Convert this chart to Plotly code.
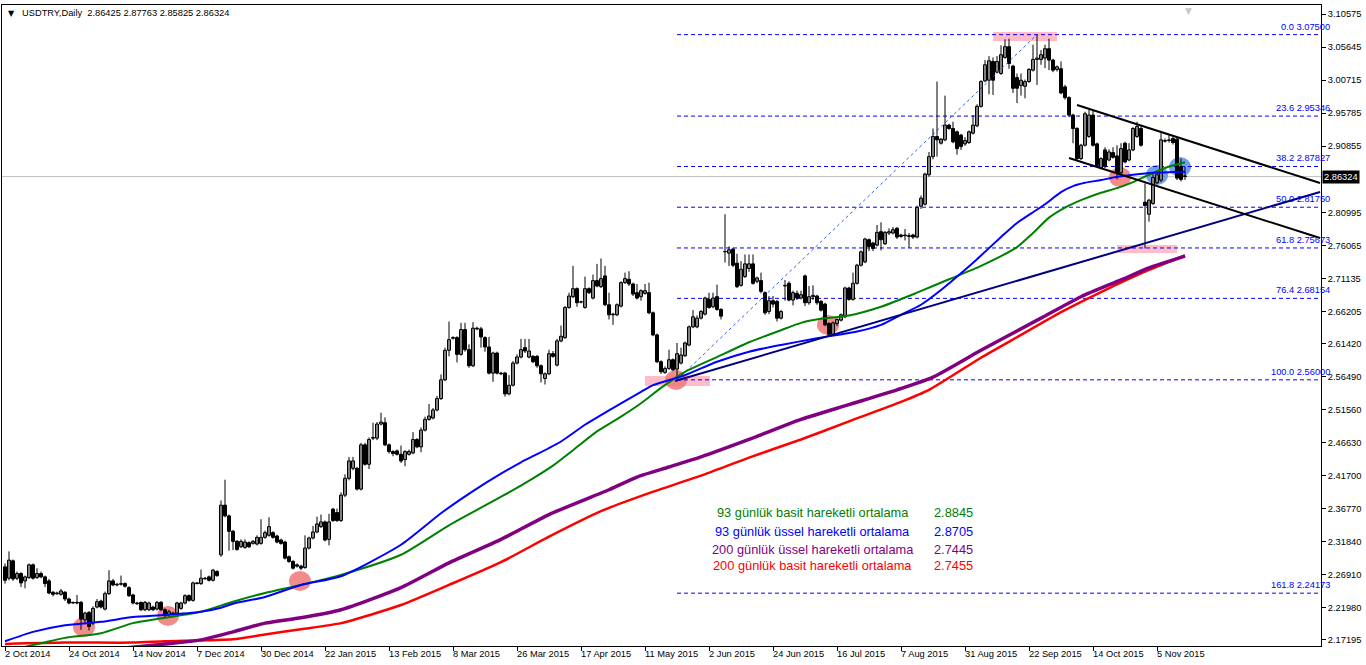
import plotly.graph_objects as go

# ---------------- data ----------------
O = [2.281,2.264,2.290,2.264,2.271,2.260,2.265,2.284,2.265,2.271,2.266,2.260,2.243,2.241,2.240,2.243,2.233,2.227,2.228,2.228,
     2.202,2.213,2.197,2.221,2.230,2.218,2.241,2.260,2.254,2.255,2.256,2.250,2.239,2.227,2.228,2.217,2.217,2.221,2.218,2.228,
     2.217,2.210,2.212,2.212,2.219,2.227,2.238,2.231,2.257,2.256,2.263,2.266,2.261,2.274,2.299,2.373,2.357,2.334,2.319,2.311,
     2.310,2.317,2.316,2.315,2.316,2.325,2.328,2.332,2.327,2.321,2.318,2.296,2.289,2.284,2.282,2.280,2.309,2.324,2.333,2.341,
     2.348,2.322,2.367,2.362,2.350,2.388,2.413,2.428,2.428,2.397,2.463,2.434,2.474,2.473,2.494,2.496,2.463,2.453,2.454,2.449,
     2.441,2.449,2.451,2.471,2.460,2.485,2.501,2.503,2.515,2.532,2.560,2.604,2.622,2.623,2.598,2.635,2.605,2.581,2.637,2.636,
     2.623,2.609,2.570,2.600,2.570,2.570,2.539,2.552,2.585,2.594,2.608,2.594,2.595,2.595,2.581,2.562,2.569,2.599,2.582,2.618,
     2.623,2.668,2.684,2.696,2.676,2.668,2.696,2.682,2.708,2.699,2.715,2.672,2.657,2.657,2.670,2.705,2.710,2.703,2.690,2.684,
     2.689,2.690,2.660,2.627,2.587,2.571,2.577,2.590,2.576,2.585,2.596,2.612,2.639,2.639,2.652,2.658,2.680,2.669,2.684,2.665,
     2.751,2.749,2.755,2.734,2.701,2.714,2.726,2.733,2.707,2.708,2.690,2.662,2.678,2.677,2.652,2.700,2.704,2.679,2.689,2.682,
     2.715,2.675,2.684,2.685,2.677,2.673,2.644,2.628,2.644,2.649,2.654,2.697,2.680,2.704,2.731,2.736,2.769,2.764,2.761,2.781,
     2.763,2.779,2.779,2.786,2.776,2.776,2.775,2.776,2.773,2.819,2.822,2.866,2.893,2.923,2.913,2.918,2.940,2.935,2.930,2.925,
     2.912,2.914,2.928,2.939,2.968,3.006,3.007,3.035,3.019,3.017,3.041,3.057,3.028,3.011,2.999,2.998,3.005,3.022,3.038,3.038,
     3.040,3.054,3.037,3.023,3.024,2.997,2.981,2.955,2.935,2.890,2.910,2.923,2.955,2.912,2.876,2.903,2.888,2.899,2.894,2.869,
     2.913,2.888,2.903,2.923,2.935,2.825,2.807,2.823,2.854,2.858,2.916,2.917,2.920,2.919,2.878,2.86425]
H = [2.286,2.304,2.292,2.274,2.273,2.268,2.286,2.286,2.279,2.274,2.268,2.263,2.245,2.244,2.248,2.245,2.235,2.229,2.239,2.230,
     2.214,2.215,2.222,2.233,2.232,2.244,2.276,2.263,2.257,2.268,2.258,2.252,2.241,2.229,2.229,2.230,2.229,2.223,2.230,2.230,
     2.219,2.217,2.214,2.229,2.229,2.240,2.240,2.259,2.258,2.277,2.266,2.268,2.278,2.276,2.380,2.411,2.359,2.336,2.321,2.322,
     2.322,2.319,2.321,2.328,2.352,2.335,2.355,2.334,2.329,2.323,2.320,2.298,2.291,2.286,2.284,2.328,2.326,2.342,2.356,2.359,
     2.350,2.360,2.369,2.368,2.392,2.419,2.445,2.445,2.430,2.466,2.466,2.474,2.496,2.497,2.511,2.504,2.465,2.455,2.456,2.462,
     2.455,2.456,2.482,2.473,2.489,2.505,2.524,2.518,2.536,2.568,2.608,2.647,2.625,2.625,2.645,2.645,2.613,2.646,2.639,2.639,
     2.625,2.624,2.602,2.602,2.572,2.572,2.567,2.588,2.598,2.621,2.621,2.621,2.597,2.597,2.583,2.571,2.605,2.603,2.621,2.641,
     2.670,2.690,2.730,2.698,2.678,2.714,2.698,2.717,2.733,2.741,2.730,2.690,2.660,2.674,2.707,2.720,2.722,2.705,2.703,2.695,
     2.703,2.705,2.662,2.629,2.589,2.580,2.605,2.592,2.615,2.608,2.617,2.641,2.664,2.656,2.664,2.684,2.690,2.690,2.702,2.667,
     2.807,2.759,2.757,2.748,2.737,2.747,2.747,2.747,2.714,2.720,2.692,2.685,2.685,2.679,2.664,2.709,2.707,2.693,2.693,2.693,
     2.717,2.700,2.701,2.687,2.679,2.675,2.646,2.647,2.652,2.659,2.699,2.699,2.720,2.733,2.753,2.772,2.771,2.766,2.791,2.795,
     2.782,2.786,2.788,2.788,2.778,2.785,2.779,2.778,2.820,2.835,2.869,2.900,2.935,3.005,2.921,2.984,2.942,2.945,2.932,2.927,
     2.922,2.932,2.955,2.971,3.007,3.037,3.043,3.041,3.043,3.059,3.068,3.069,3.030,3.017,3.017,3.008,3.025,3.060,3.075,3.052,
     3.060,3.069,3.039,3.029,3.035,3.000,2.983,2.957,2.937,2.912,2.960,2.963,2.963,2.914,2.892,2.907,2.904,2.907,2.910,2.913,
     2.915,2.913,2.937,2.945,2.940,2.853,2.830,2.870,2.868,2.928,2.920,2.925,2.923,2.922,2.890,2.87763]
L = [2.256,2.261,2.260,2.261,2.251,2.249,2.263,2.262,2.263,2.264,2.251,2.240,2.237,2.239,2.238,2.230,2.225,2.226,2.225,2.187,
     2.196,2.186,2.194,2.219,2.219,2.216,2.239,2.252,2.252,2.253,2.250,2.236,2.225,2.224,2.215,2.215,2.215,2.215,2.216,2.215,
     2.206,2.206,2.209,2.210,2.217,2.225,2.229,2.229,2.255,2.254,2.262,2.259,2.259,2.266,2.296,2.355,2.305,2.306,2.305,2.309,
     2.308,2.309,2.314,2.313,2.314,2.323,2.326,2.323,2.316,2.314,2.292,2.287,2.277,2.280,2.276,2.278,2.307,2.322,2.331,2.339,
     2.319,2.313,2.348,2.348,2.348,2.385,2.410,2.425,2.395,2.395,2.432,2.427,2.470,2.470,2.492,2.461,2.450,2.446,2.447,2.436,
     2.431,2.447,2.449,2.458,2.452,2.483,2.499,2.501,2.513,2.530,2.558,2.595,2.620,2.586,2.596,2.602,2.578,2.579,2.634,2.608,
     2.602,2.568,2.557,2.568,2.567,2.535,2.537,2.550,2.583,2.592,2.600,2.592,2.585,2.578,2.556,2.553,2.567,2.593,2.580,2.616,
     2.621,2.666,2.682,2.669,2.674,2.666,2.688,2.680,2.698,2.697,2.670,2.650,2.642,2.655,2.668,2.703,2.700,2.685,2.680,2.678,
     2.687,2.658,2.625,2.585,2.569,2.569,2.575,2.573,2.560,2.583,2.594,2.610,2.637,2.637,2.650,2.656,2.666,2.667,2.663,2.650,
     2.735,2.730,2.728,2.697,2.699,2.712,2.721,2.702,2.704,2.689,2.657,2.658,2.668,2.647,2.650,2.678,2.677,2.671,2.679,2.680,
     2.670,2.672,2.679,2.672,2.662,2.640,2.626,2.626,2.640,2.647,2.652,2.678,2.678,2.702,2.729,2.734,2.752,2.752,2.759,2.753,
     2.761,2.776,2.777,2.770,2.772,2.768,2.757,2.770,2.771,2.815,2.820,2.863,2.889,2.893,2.911,2.916,2.933,2.913,2.896,2.903,
     2.909,2.912,2.926,2.937,2.966,3.004,2.986,2.985,3.017,3.015,3.039,3.024,2.988,2.973,2.984,2.980,3.003,3.020,3.000,3.030,
     3.025,3.022,3.019,3.020,2.986,2.978,2.952,2.913,2.888,2.888,2.908,2.921,2.908,2.878,2.874,2.876,2.886,2.890,2.859,2.866,
     2.883,2.886,2.901,2.921,2.908,2.756,2.796,2.821,2.852,2.855,2.914,2.914,2.911,2.858,2.856,2.85825]
C = [2.261,2.291,2.263,2.271,2.257,2.266,2.284,2.264,2.271,2.266,2.256,2.242,2.240,2.242,2.245,2.233,2.227,2.228,2.227,2.203,
     2.212,2.192,2.219,2.229,2.221,2.241,2.260,2.254,2.255,2.256,2.252,2.238,2.227,2.226,2.217,2.228,2.227,2.217,2.228,2.217,
     2.208,2.214,2.211,2.227,2.227,2.238,2.231,2.257,2.256,2.264,2.264,2.261,2.276,2.268,2.373,2.357,2.334,2.319,2.307,2.319,
     2.318,2.311,2.319,2.325,2.325,2.332,2.341,2.325,2.318,2.316,2.294,2.289,2.279,2.282,2.279,2.309,2.324,2.333,2.345,2.348,
     2.321,2.348,2.350,2.350,2.388,2.413,2.439,2.439,2.397,2.463,2.434,2.471,2.473,2.494,2.497,2.463,2.453,2.450,2.449,2.439,
     2.453,2.453,2.471,2.460,2.485,2.501,2.506,2.515,2.532,2.560,2.604,2.620,2.623,2.598,2.635,2.605,2.581,2.637,2.636,2.624,
     2.609,2.570,2.600,2.570,2.569,2.539,2.552,2.585,2.594,2.605,2.603,2.603,2.587,2.581,2.569,2.569,2.599,2.595,2.618,2.625,
     2.668,2.685,2.696,2.675,2.676,2.696,2.690,2.708,2.700,2.711,2.672,2.657,2.658,2.672,2.705,2.711,2.703,2.688,2.682,2.693,
     2.693,2.660,2.627,2.587,2.572,2.577,2.590,2.575,2.599,2.597,2.615,2.639,2.654,2.652,2.662,2.682,2.668,2.682,2.665,2.655,
     2.751,2.754,2.731,2.699,2.725,2.733,2.733,2.704,2.712,2.692,2.660,2.678,2.673,2.652,2.662,2.701,2.679,2.690,2.682,2.687,
     2.675,2.684,2.686,2.675,2.664,2.642,2.628,2.645,2.650,2.657,2.697,2.680,2.704,2.731,2.751,2.770,2.759,2.756,2.780,2.769,
     2.780,2.781,2.784,2.773,2.774,2.775,2.774,2.773,2.817,2.831,2.867,2.893,2.923,2.918,2.919,2.940,2.935,2.915,2.905,2.908,
     2.917,2.930,2.940,2.968,3.005,3.030,3.036,3.007,3.035,3.045,3.057,3.032,2.995,2.995,3.007,3.005,3.023,3.038,3.040,3.045,
     3.054,3.037,3.022,3.027,2.988,2.981,2.955,2.935,2.890,2.910,2.957,2.955,2.910,2.880,2.890,2.878,2.900,2.892,2.869,2.905,
     2.885,2.903,2.935,2.938,2.910,2.820,2.828,2.862,2.866,2.918,2.917,2.918,2.914,2.861,2.859,2.86324]

date_labels = ["2 Oct 2014", "24 Oct 2014", "14 Nov 2014", "7 Dec 2014", "30 Dec 2014", "22 Jan 2015",
               "13 Feb 2015", "8 Mar 2015", "26 Mar 2015", "17 Apr 2015", "11 May 2015", "2 Jun 2015",
               "24 Jun 2015", "16 Jul 2015", "7 Aug 2015", "31 Aug 2015", "22 Sep 2015", "14 Oct 2015", "5 Nov 2015"]
date_label_bars = [0, 16, 32, 48, 64, 80, 96, 112, 128, 144, 160, 176, 192, 208, 224, 240, 256, 272, 288]

price_ticks = ["3.10575", "3.05645", "3.00715", "2.95785", "2.90855", "2.80995", "2.76065", "2.71135",
               "2.66205", "2.61420", "2.56490", "2.51560", "2.46630", "2.41700", "2.36770", "2.31840",
               "2.26910", "2.21980", "2.17195"]

# moving averages, read at sample bars
sma93_x = [0, 9, 15, 24, 32, 40, 49, 57, 65, 74, 84, 99, 111, 126, 132, 137, 142, 148, 154, 159, 164, 170, 178, 186,
           194, 199, 204, 211, 219, 228, 236, 244, 253, 257, 261, 265, 269, 274, 278, 282, 286, 290, 295]
sma93_y = [2.155, 2.167, 2.175, 2.182, 2.197, 2.205, 2.214, 2.229, 2.242, 2.254, 2.269, 2.299, 2.343, 2.392, 2.413,
           2.432, 2.455, 2.483, 2.505, 2.525, 2.548, 2.572, 2.594, 2.616, 2.634, 2.645, 2.651, 2.656, 2.669, 2.690,
           2.710, 2.730, 2.758, 2.779, 2.802, 2.817, 2.828, 2.839, 2.846, 2.855, 2.866, 2.876, 2.8845]
ema93_x = [0, 7, 15, 24, 32, 40, 49, 54, 57, 65, 74, 84, 99, 109, 117, 124, 129, 133, 139, 145, 154, 159, 162, 170,
           178, 186, 194, 203, 208, 213, 219, 224, 229, 234, 239, 243, 249, 253, 257, 260, 264, 267, 270, 274, 278,
           282, 287, 292, 295]
ema93_y = [2.170, 2.184, 2.194, 2.199, 2.206, 2.209, 2.214, 2.220, 2.226, 2.236, 2.254, 2.267, 2.314, 2.361, 2.394,
           2.420, 2.437, 2.449, 2.468, 2.493, 2.525, 2.542, 2.552, 2.567, 2.587, 2.602, 2.612, 2.622, 2.627, 2.632,
           2.642, 2.657, 2.672, 2.694, 2.719, 2.740, 2.773, 2.794, 2.810, 2.822, 2.840, 2.849, 2.854, 2.858, 2.863,
           2.866, 2.869, 2.870, 2.8705]
ema200_x = [30, 42, 49, 57, 65, 74, 84, 99, 111, 124, 136, 151, 158, 166, 174, 186, 199, 211, 223, 232, 244, 259,
            269, 279, 286, 295]
ema200_y = [2.160, 2.167, 2.172, 2.184, 2.197, 2.205, 2.217, 2.250, 2.287, 2.322, 2.359, 2.396, 2.415, 2.430, 2.445,
            2.471, 2.501, 2.523, 2.545, 2.564, 2.604, 2.652, 2.684, 2.709, 2.727, 2.7445]
sma200_x = [0, 15, 32, 40, 57, 65, 74, 84, 99, 111, 124, 136, 149, 161, 174, 186, 199, 211, 224, 231, 244, 254, 264,
            274, 286, 295]
sma200_y = [2.166, 2.168, 2.168, 2.170, 2.173, 2.180, 2.188, 2.197, 2.224, 2.254, 2.288, 2.326, 2.364, 2.391, 2.417,
            2.444, 2.471, 2.498, 2.527, 2.545, 2.593, 2.627, 2.661, 2.691, 2.724, 2.7455]

# drawn objects (anchor bar, price)
trend_x = [167.5, 328.75]
trend_y = [2.5582, 2.8402]
chan_up_x = [268, 328.75]
chan_up_y = [2.9700, 2.8536]
chan_lo_x = [266, 328.75]
chan_lo_y = [2.8909, 2.7716]
fib_anchor_x = [168, 258]
fib_anchor_y = [2.56000, 3.07500]
fib_levels = [3.07500, 2.95346, 2.87827, 2.81750, 2.75673, 2.68154, 2.56000, 2.24173]
fib_names = ["0.0 3.07500", "23.6 2.95346", "38.2 2.87827", "50.0 2.81750", "61.8 2.75673",
             "76.4 2.68154", "100.0 2.56000", "161.8 2.24173"]
last_price = 2.86324

red_marks_x = [19.75, 40.75, 73.75, 167.75, 205.75, 278.75]
red_marks_y = [2.1912, 2.2076, 2.2598, 2.5597, 2.6418, 2.8625]
blue_marks_x = [288, 293.75]
blue_marks_y = [2.8655, 2.8775]
pink_boxes = [  # (bar0, bar1, price0, price1)
    (247, 263, 3.0655, 3.0789),
    (278, 293, 2.7491, 2.7612),
    (160, 176.25, 2.5507, 2.5657),
]

legend_names = ["93 günlük basit hareketli ortalama", "93 günlük üssel hareketli ortalama",
                "200 günlük üssel hareketli ortalama", "200 günlük basit hareketli ortalama"]
legend_values = ["2.8845", "2.8705", "2.7445", "2.7455"]
legend_colors = ["#008000", "#0000ff", "#800080", "#ff0000"]

# ---------------- figure ----------------
FONT = "Liberation Sans, Arial, sans-serif"
X_RANGE = [-0.75, 329]
Y_RANGE = [2.1629, 3.1192]
BODY_W = 0.75

fig = go.Figure()

# highlights (below everything)
for (a, b, p0, p1) in pink_boxes:
    fig.add_shape(type="rect", x0=a, x1=b, y0=p0, y1=p1, xref="x", yref="y",
                  fillcolor="#ffbcc8", line_width=0, layer="below")
for mx, my in zip(red_marks_x, red_marks_y):
    fig.add_shape(type="circle", xref="x", yref="y", xsizemode="pixel", ysizemode="pixel",
                  xanchor=mx, yanchor=my, x0=-11, x1=11, y0=-10, y1=10,
                  fillcolor="rgba(240,120,120,0.85)", line_width=0, layer="below")
for mx, my in zip(blue_marks_x, blue_marks_y):
    fig.add_shape(type="circle", xref="x", yref="y", xsizemode="pixel", ysizemode="pixel",
                  xanchor=mx, yanchor=my, x0=-11, x1=11, y0=-10, y1=10,
                  fillcolor="rgba(100,150,235,0.9)", line_width=0, layer="below")

# current price line
fig.add_shape(type="line", xref="paper", yref="y", x0=0, x1=1, y0=last_price, y1=last_price,
              line=dict(color="#c0c0c0", width=1), layer="below")

# fibonacci lines
for lv in fib_levels:
    fig.add_shape(type="line", xref="x", yref="y", x0=fib_anchor_x[0], x1=X_RANGE[1], y0=lv, y1=lv,
                  line=dict(color="#0000ff", width=1, dash="4px,3px"), layer="below")

fig.add_trace(go.Scatter(x=fib_anchor_x, y=fib_anchor_y, mode="lines",
                         line=dict(color="#3060ff", width=1, dash="dot"), hoverinfo="skip"))

# candles: wicks + bodies
n = len(C)
wx, wy = [], []
for i in range(n):
    wx += [i, i, None]
    wy += [L[i], H[i], None]
fig.add_trace(go.Scatter(x=wx, y=wy, mode="lines", line=dict(color="black", width=1), hoverinfo="skip"))

up_idx = [i for i in range(n) if C[i] >= O[i]]
dn_idx = [i for i in range(n) if C[i] < O[i]]
fig.add_trace(go.Bar(x=up_idx, base=[O[i] for i in up_idx], y=[max(C[i] - O[i], 0.0004) for i in up_idx],
                     width=BODY_W, marker=dict(color="white", line=dict(color="black", width=1))))
fig.add_trace(go.Bar(x=dn_idx, base=[C[i] for i in dn_idx], y=[max(O[i] - C[i], 0.0004) for i in dn_idx],
                     width=BODY_W, marker=dict(color="black", line=dict(color="black", width=1))))

# moving averages
fig.add_trace(go.Scatter(x=sma200_x, y=sma200_y, mode="lines", line=dict(color="#ff0000", width=2.5, shape="spline", smoothing=0.6)))
fig.add_trace(go.Scatter(x=ema200_x, y=ema200_y, mode="lines", line=dict(color="#800080", width=3.5, shape="spline", smoothing=0.6)))
fig.add_trace(go.Scatter(x=sma93_x, y=sma93_y, mode="lines", line=dict(color="#008000", width=2, shape="spline", smoothing=0.6)))
fig.add_trace(go.Scatter(x=ema93_x, y=ema93_y, mode="lines", line=dict(color="#0000ff", width=2, shape="spline", smoothing=0.6)))

# trend lines
fig.add_trace(go.Scatter(x=trend_x, y=trend_y, mode="lines", line=dict(color="#000080", width=2)))
fig.add_trace(go.Scatter(x=chan_up_x, y=chan_up_y, mode="lines", line=dict(color="black", width=2)))
fig.add_trace(go.Scatter(x=chan_lo_x, y=chan_lo_y, mode="lines", line=dict(color="black", width=2)))

annotations = []
# fib labels
for lv, nm in zip(fib_levels, fib_names):
    annotations.append(dict(xref="paper", yref="y", x=1, y=lv, text=nm, showarrow=False,
                            xanchor="right", yanchor="bottom", yshift=2, xshift=10, borderpad=0,
                            font=dict(family=FONT, size=9.3, color="#0000ff")))
# x labels
for b, t in zip(date_label_bars, date_labels):
    annotations.append(dict(xref="x", yref="paper", x=b, y=0, text=t, showarrow=False,
                            xanchor="left", yanchor="top", yshift=-2, xshift=-1, borderpad=0,
                            font=dict(family=FONT, size=9.3, color="black")))
# title
annotations.append(dict(xref="paper", yref="paper", x=0.003, y=1, text="▼", showarrow=False,
                        xanchor="left", yanchor="top", yshift=-2,
                        font=dict(family="DejaVu Sans", size=8, color="black")))
annotations.append(dict(xref="paper", yref="paper", x=0.0135, y=1,
                        text="USDTRY,Daily\u00a0\u00a02.86425 2.87763 2.85825 2.86324", showarrow=False,
                        xanchor="left", yanchor="top", yshift=-1,
                        font=dict(family=FONT, size=9.3, color="black")))
# last price box
annotations.append(dict(xref="paper", yref="y", x=1, y=last_price, text="2.86324", showarrow=False,
                        xanchor="left", yanchor="middle", xshift=1, bgcolor="black", borderpad=1,
                        font=dict(family=FONT, size=9.3, color="white")))
# legend texts
leg_y = [0.209, 0.178, 0.151, 0.125]
for nm, val, col, yy in zip(legend_names, legend_values, legend_colors, leg_y):
    annotations.append(dict(xref="paper", yref="paper", x=0.6147, y=yy, text=nm, showarrow=False,
                            xanchor="center", yanchor="middle",
                            font=dict(family=FONT, size=12.8, color=col)))
    annotations.append(dict(xref="paper", yref="paper", x=0.7215, y=yy, text=val, showarrow=False,
                            xanchor="center", yanchor="middle",
                            font=dict(family=FONT, size=12.8, color=col)))
# chart shift marker
annotations.append(dict(xref="x", yref="paper", x=295.8, y=1, text="▼", showarrow=False,
                        xanchor="center", yanchor="top", yshift=1,
                        font=dict(family="DejaVu Sans", size=9, color="#c8c8c8")))

fig.update_layout(
    width=1366, height=665,
    margin=dict(l=2, r=45, t=5, b=19, pad=0),
    paper_bgcolor="white", plot_bgcolor="white",
    showlegend=False, barmode="overlay", hovermode=False,
    annotations=annotations,
    xaxis=dict(range=X_RANGE, showgrid=False, zeroline=False,
               tickmode="array", tickvals=date_label_bars, ticktext=[""] * len(date_label_bars),
               ticks="outside", ticklen=4, tickcolor="black", tickwidth=1,
               showline=True, linecolor="black", linewidth=1, mirror=True),
    yaxis=dict(range=Y_RANGE, side="right", showgrid=False, zeroline=False,
               tickmode="array", tickvals=[float(v) for v in price_ticks], ticktext=price_ticks,
               ticks="outside", ticklen=4, tickcolor="black", tickwidth=1,
               tickfont=dict(family=FONT, size=9.3, color="black"),
               showline=True, linecolor="black", linewidth=1, mirror=True),
)

fig.write_html("out.html", config={"displayModeBar": False},
               post_script="document.body.style.margin='0';document.body.style.overflow='hidden';")
